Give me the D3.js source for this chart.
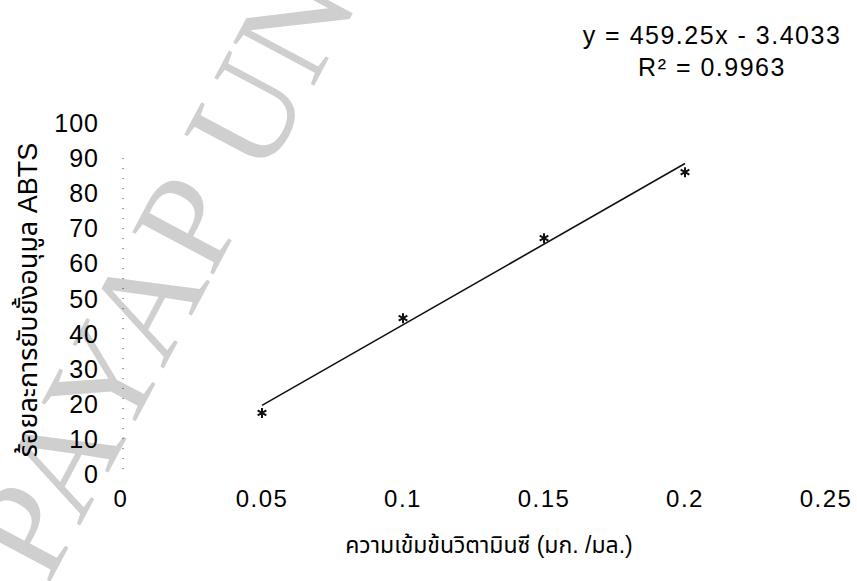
<!DOCTYPE html>
<html>
<head>
<meta charset="utf-8">
<script src="https://cdn.jsdelivr.net/npm/d3@7"></script>
<style>
  body { margin: 0; background: #fff; }
  text { font-family: "Liberation Sans", Arial, "Noto Sans Thai", "Noto Sans", sans-serif; }
</style>
</head>
<body>
<script>
const concentration = [0.05, 0.1, 0.15, 0.2]
const inhibition = [17.4, 44.4, 67.2, 86.0]
const slope = 459.25
const intercept = -3.4033
const xTicks = [0, 0.05, 0.1, 0.15, 0.2, 0.25]
const yTicks = [0, 10, 20, 30, 40, 50, 60, 70, 80, 90, 100]
const equationLines = ["y = 459.25x - 3.4033", "R² = 0.9963"]
const xTitle = "ความเข้มข้นวิตามินซี (มก. /มล.)"
const yTitle = "ร้อยละการยับยั้งอนุมูล ABTS"
const watermark = "PAYAP UNIVERSITY"

const w = 857
const h = 581

const xScale = d3.scaleLinear().domain([0, 0.25]).range([121, 826])
const yScale = d3.scaleLinear().domain([0, 100]).range([474, 123])

const svg = d3.select("body")
              .append("svg")
              .attr("width", w)
              .attr("height", h)

// watermark behind everything
svg.append("text")
   .attr("transform", "translate(48, 586) rotate(-62)")
   .attr("font-size", 140)
   .style("font-family", "'Liberation Serif', 'Times New Roman', serif")
   .style("letter-spacing", "2px")
   .attr("fill", "#cfcfcf")
   .text(watermark)

// faint dotted y axis line (as in the scan)
svg.append("line")
   .attr("x1", 123).attr("x2", 123)
   .attr("y1", yScale(90)).attr("y2", yScale(0))
   .attr("stroke", "#333")
   .attr("stroke-width", 1)
   .attr("stroke-dasharray", "1,9")

svg.selectAll(".ytick")
   .data(yTicks)
   .enter()
   .append("text")
   .attr("class", "ytick")
   .attr("x", 99)
   .attr("y", (d) => yScale(d))
   .attr("dy", "0.36em")
   .attr("text-anchor", "end")
   .attr("font-size", 25)
   .style("letter-spacing", "1px")
   .text((d) => d)

svg.selectAll(".xtick")
   .data(xTicks)
   .enter()
   .append("text")
   .attr("class", "xtick")
   .attr("x", (d) => xScale(d))
   .attr("y", 507)
   .attr("text-anchor", "middle")
   .attr("font-size", 24)
   .style("letter-spacing", "1.5px")
   .text((d) => d)

// trendline
const line = d3.line()
               .x((d) => xScale(d))
               .y((d) => yScale(slope * d + intercept))
svg.append("path")
   .datum([d3.min(concentration), d3.max(concentration)])
   .attr("d", line)
   .attr("fill", "none")
   .attr("stroke", "#111")
   .attr("stroke-width", 1.6)

const points = concentration.map((c, i) => [c, inhibition[i]])
svg.selectAll(".dot")
   .data(points)
   .enter()
   .append("path")
   .attr("class", "dot")
   .attr("transform", (d) => "translate(" + xScale(d[0]) + "," + yScale(d[1]) + ")")
   .attr("d", d3.symbol().type(d3.symbolAsterisk).size(70))
   .attr("fill", "none")
   .attr("stroke", "#111")
   .attr("stroke-width", 2)

svg.selectAll(".eq")
   .data(equationLines)
   .enter()
   .append("text")
   .attr("class", "eq")
   .attr("x", 712)
   .attr("y", (d, i) => 44 + i * 32)
   .attr("text-anchor", "middle")
   .attr("font-size", 25)
   .style("letter-spacing", "1.5px")
   .text((d) => d)

svg.append("text")
   .attr("x", 489)
   .attr("y", 553)
   .attr("text-anchor", "middle")
   .attr("font-size", 23)
   .text(xTitle)

svg.append("text")
   .attr("transform", "translate(37, 300) rotate(-90)")
   .attr("text-anchor", "middle")
   .attr("font-size", 27)
   .text(yTitle)
</script>
</body>
</html>
